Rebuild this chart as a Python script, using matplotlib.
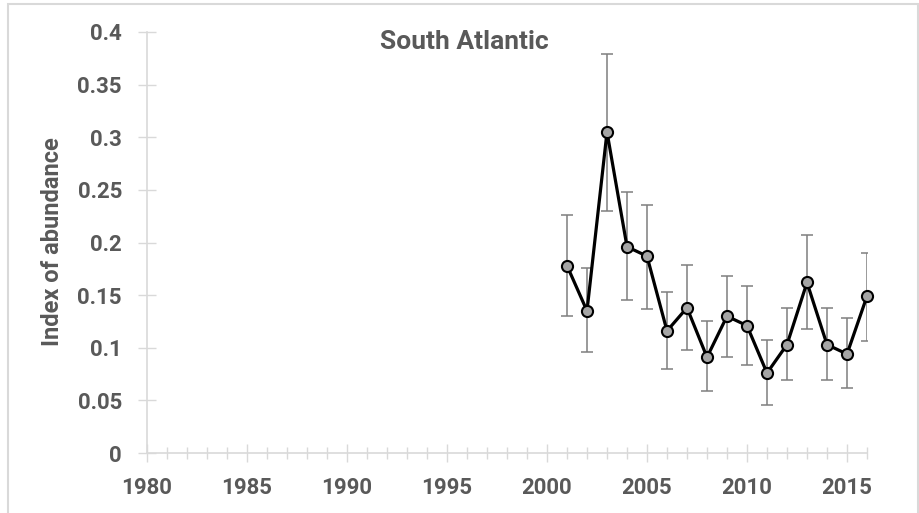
import matplotlib.pyplot as plt
from matplotlib.ticker import MultipleLocator, FuncFormatter
from matplotlib.patches import Rectangle

# Dữ liệu
years = [2001, 2002, 2003, 2004, 2005, 2006, 2007, 2008,
         2009, 2010, 2011, 2012, 2013, 2014, 2015, 2016]
index = [0.178, 0.135, 0.305, 0.196, 0.187, 0.116, 0.138, 0.091,
         0.130, 0.121, 0.076, 0.103, 0.162, 0.103, 0.094, 0.149]
upper = [0.226, 0.176, 0.379, 0.248, 0.236, 0.153, 0.179, 0.125,
         0.168, 0.159, 0.107, 0.138, 0.207, 0.138, 0.128, 0.190]
lower = [0.130, 0.096, 0.230, 0.145, 0.137, 0.080, 0.098, 0.059,
         0.091, 0.084, 0.046, 0.069, 0.118, 0.069, 0.062, 0.106]

text_color = '#595959'
plt.rcParams['font.family'] = ['Roboto', 'DejaVu Sans']
plt.rcParams['font.weight'] = 'bold'

fig = plt.figure(figsize=(9.19, 5.13), dpi=100)
ax = fig.add_axes([147 / 919, 1 - 453 / 513, 720 / 919, 421 / 513])

err_low = [v - l for v, l in zip(index, lower)]
err_up = [u - v for v, u in zip(index, upper)]
ax.errorbar(years, index, yerr=[err_low, err_up], fmt='none',
            ecolor='#7f7f7f', elinewidth=1.1, capsize=4, capthick=1.1, zorder=2)
ax.plot(years, index, color='black', linewidth=2.3, marker='o',
        markersize=8, markerfacecolor='#a5a5a5', markeredgecolor='black',
        markeredgewidth=1.5, zorder=3, clip_on=False)

ax.set_xlim(1980, 2016)
ax.set_ylim(0, 0.4)
ax.xaxis.set_major_locator(MultipleLocator(5))
ax.xaxis.set_minor_locator(MultipleLocator(1))
ax.yaxis.set_major_locator(MultipleLocator(0.05))
ax.yaxis.set_major_formatter(FuncFormatter(lambda v, p: ('%.2f' % v).rstrip('0').rstrip('.') if v else '0'))

for s in ['top', 'right']:
    ax.spines[s].set_visible(False)
for s in ['left', 'bottom']:
    ax.spines[s].set_color('#d9d9d9')
    ax.spines[s].set_linewidth(1.2)

ax.tick_params(axis='both', which='major', direction='inout', length=13,
               color='#d9d9d9', width=1, labelsize=16, labelcolor=text_color)
ax.tick_params(axis='x', which='minor', direction='inout', length=8.6,
               color='#d9d9d9', width=1)
ax.tick_params(axis='x', pad=11)
ax.tick_params(axis='y', pad=11.5)

fig.text(53 / 919, 1 - 242 / 513, 'Index of abundance', rotation=90,
         ha='center', va='center', fontsize=17, fontweight='bold', color=text_color)
fig.text(464 / 919, 1 - 42 / 513, 'South Atlantic', ha='center', va='center',
         fontsize=19, fontweight='bold', color=text_color)

# Khung viền của biểu đồ
fig.patches.append(Rectangle((8 / 919, -0.05), 910 / 919, 1.05 - 4 / 513,
                             transform=fig.transFigure, fill=False,
                             edgecolor='#d9d9d9', linewidth=1.5))

fig.savefig('out.png', dpi=100)
